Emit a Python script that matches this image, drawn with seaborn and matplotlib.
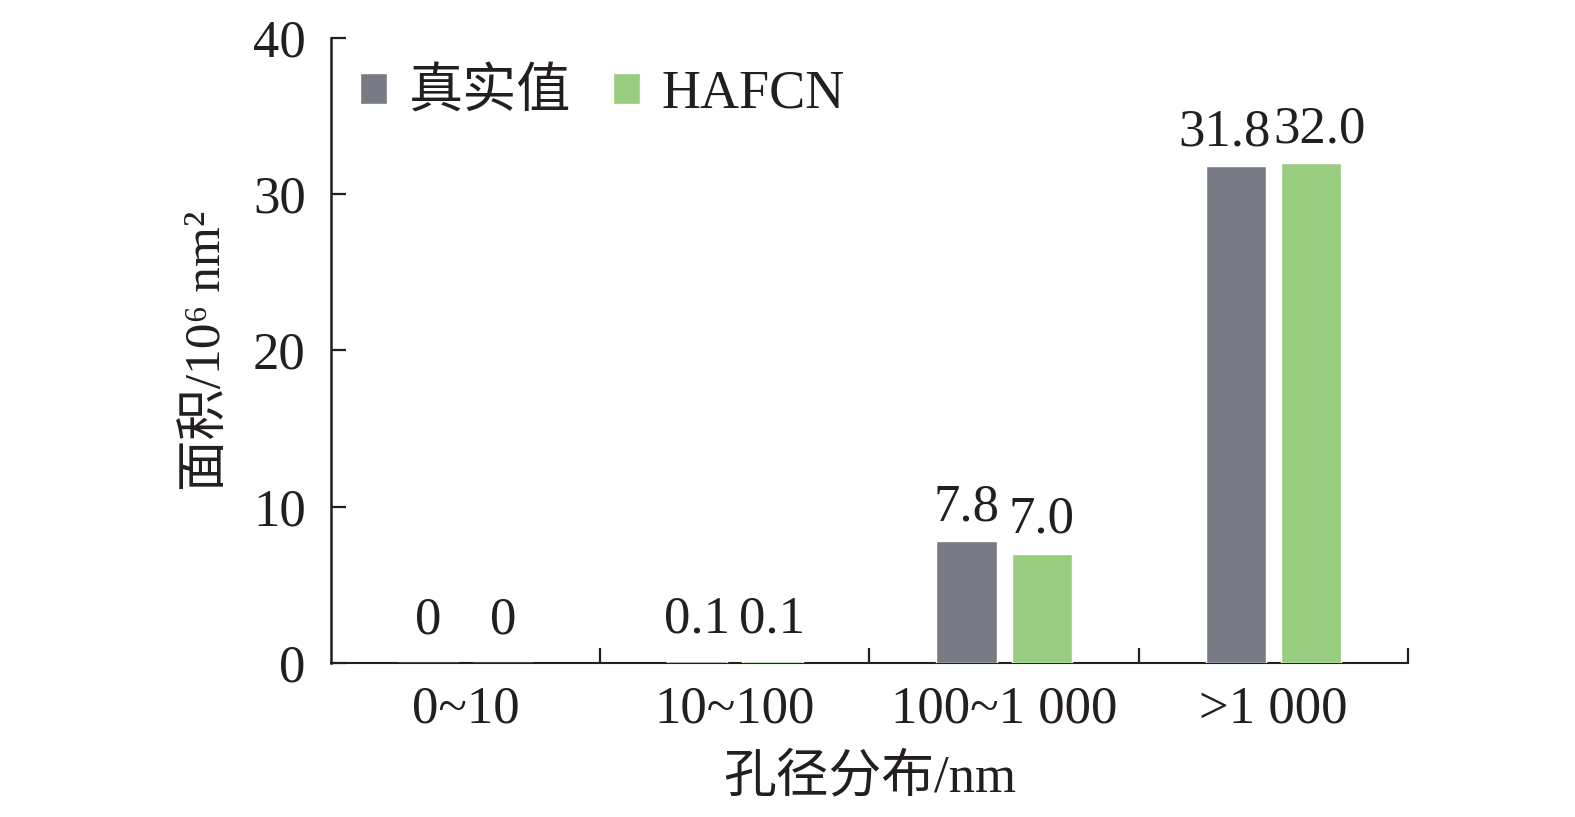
# Pore size distribution: true values vs HAFCN

import pandas as pd
import seaborn as sns
import matplotlib.pyplot as plt
from matplotlib.ticker import FixedLocator

# Data
categories = ["0~10", "10~100", "100~1 000", ">1 000"]
series_names = ["真实值", "HAFCN"]
true_values = [0, 0.1, 7.8, 31.8]
hafcn_values = [0, 0.1, 7.0, 32.0]
y_ticks = [0, 10, 20, 30, 40]

colors = ["#787b83", "#98cd80"]
ink = "#231f20"

data = pd.DataFrame({
    "range": categories * 2,
    "series": [series_names[0]] * len(categories) + [series_names[1]] * len(categories),
    "area": true_values + hafcn_values,
})

# Style
sns.set_style("white")
plt.rcParams["font.family"] = ["Liberation Serif", "Noto Sans CJK SC"]
plt.rcParams["axes.unicode_minus"] = False
plt.rcParams["text.color"] = ink
plt.rcParams["axes.labelcolor"] = ink
plt.rcParams["xtick.color"] = ink
plt.rcParams["ytick.color"] = ink

fig = plt.figure(figsize=(15.75, 8.17), dpi=100)
ax = fig.add_axes([0.210, 0.1885, 0.684, 0.765])

sns.barplot(data=data, x="range", y="area", hue="series", order=categories,
            hue_order=series_names, palette=colors, width=0.56, gap=0.2,
            errorbar=None, saturation=1, ax=ax, zorder=3)

# value labels (small values sit a bit higher, like the original)
for cont, vals in zip(ax.containers, [true_values, hafcn_values]):
    labels = ["0" if v == 0 else f"{v:.1f}" for v in vals]
    texts = ax.bar_label(cont, labels=labels, padding=7, fontsize=38)
    for t, v in zip(texts, vals):
        if v < 1:
            t.xyann = (t.xyann[0], 13)

# nudge the two big labels apart so they don't collide
for t in ax.texts:
    if t.get_text() == "31.8":
        t.xyann = (-8, t.xyann[1])
    elif t.get_text() == "32.0":
        t.xyann = (6, t.xyann[1])

# Axes
ax.set_xlim(-0.5, 3.5)
ax.set_ylim(0, 40)
ax.set_yticks(y_ticks)
ax.xaxis.set_minor_locator(FixedLocator([0.5, 1.5, 2.5, 3.5]))
ax.tick_params(axis="x", which="major", length=0, labelsize=38, pad=16)
ax.tick_params(axis="x", which="minor", direction="in", length=11, width=1.6,
               bottom=True)
ax.tick_params(axis="y", direction="in", length=11, width=1.6, labelsize=38,
               pad=18, left=True)

for side in ["top", "right"]:
    ax.spines[side].set_visible(False)
ax.spines["left"].set_linewidth(1.8)
ax.spines["left"].set_color(ink)
ax.spines["bottom"].set_linewidth(1.5)
ax.spines["bottom"].set_color(ink)

ax.set_xlabel("孔径分布/nm", fontsize=38, labelpad=15)
ax.set_ylabel("面积/10⁶ nm²", fontsize=37, labelpad=16)

# Legend
ax.legend(loc="center left", bbox_to_anchor=(0.027, 0.91), ncol=2, frameon=False,
          fontsize=39, handlelength=0.5, handleheight=0.5, handletextpad=0.4,
          columnspacing=0.78, borderaxespad=0, borderpad=0)

fig.savefig("out.png", dpi=100)
